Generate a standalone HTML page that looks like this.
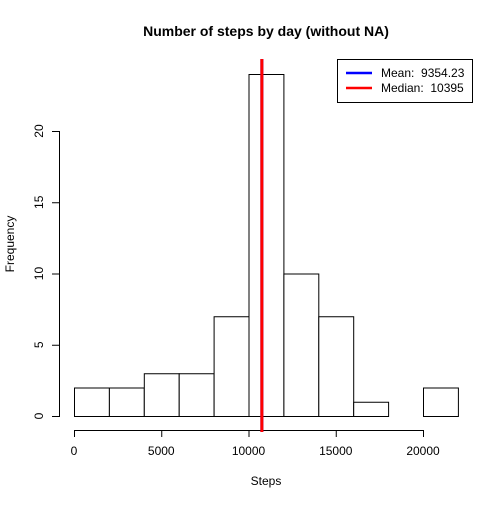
<!DOCTYPE html>
<html><head><meta charset="utf-8"><style>body{margin:0;background:#fff}svg text{font-family:"Liberation Sans",Arial,sans-serif;white-space:pre}</style></head>
<body>
<svg width="504" height="504">
<rect width="504" height="504" fill="#fff"/>
<text x="266" y="36" font-size="14" font-weight="bold" text-anchor="middle">Number of steps by day (without NA)</text>
<text x="266" y="485" font-size="12" text-anchor="middle">Steps</text>
<text x="14" y="244" font-size="12" text-anchor="middle" transform="rotate(-90 14 244)">Frequency</text>
<g id="bars"></g><g id="xaxis"></g><g id="yaxis"></g><g id="lines"></g>
<g>
<rect x="337.5" y="59.5" width="135" height="43" fill="#fff" stroke="#000"/>
<line x1="346" y1="73" x2="372" y2="73" stroke="blue" stroke-width="2.5"/>
<text x="381" y="77" font-size="12">Mean:&#160; 9354.23</text>
<line x1="346" y1="88" x2="372" y2="88" stroke="red" stroke-width="2.5"/>
<text x="381" y="92" font-size="12">Median:&#160; 10395</text>
</g>
</svg>
<script>
const binStarts=[0,2000,4000,6000,8000,10000,12000,14000,16000,18000,20000];
const counts=[2,2,3,3,7,24,10,7,1,0,2];
const xTicks=[0,5000,10000,15000,20000];
const yTicks=[0,5,10,15,20];
const meanLinePos=10766;
const medianLinePos=10766;
const binWidth=2000;
const X=v=>74+v*349/20000, Y=v=>416-v*14.25;
const ns="http://www.w3.org/2000/svg";
function mk(t,a,p){const e=document.createElementNS(ns,t);for(const k in a)e.setAttribute(k,a[k]);p.appendChild(e);return e;}
const bars=document.getElementById('bars');
binStarts.forEach((b,i)=>{const r=mk('rect',{x:X(b)+0.5,y:Y(counts[i])+0.5,width:X(b+binWidth)-X(b),height:Y(0)-Y(counts[i]),fill:'#fff',stroke:'#000','stroke-width':1},bars);

});
const xa=document.getElementById('xaxis');
mk('line',{x1:X(0),x2:X(20000),y1:430.5,y2:430.5,stroke:'#000'},xa);
xTicks.forEach(t=>{mk('line',{x1:X(t)+0.5,x2:X(t)+0.5,y1:430,y2:437,stroke:'#000'},xa);
const tx=mk('text',{x:X(t),y:455,'font-size':12,'text-anchor':'middle'},xa);tx.textContent=t;

});
const ya=document.getElementById('yaxis');
mk('line',{x1:59.5,x2:59.5,y1:Y(0),y2:Y(20),stroke:'#000'},ya);
yTicks.forEach(t=>{mk('line',{x1:52,x2:60,y1:Y(t)+0.5,y2:Y(t)+0.5,stroke:'#000'},ya);
const tx=mk('text',{x:43,y:Y(t),'font-size':12,'text-anchor':'middle',transform:`rotate(-90 43 ${Y(t)})`},ya);tx.textContent=t;

});
const ln=document.getElementById('lines');
const m=mk('line',{x1:X(meanLinePos),x2:X(meanLinePos),y1:59,y2:432,stroke:'blue','stroke-width':3},ln);


const md=mk('line',{x1:X(medianLinePos),x2:X(medianLinePos),y1:59,y2:432,stroke:'red','stroke-width':3},ln);


</script>
</body></html>
